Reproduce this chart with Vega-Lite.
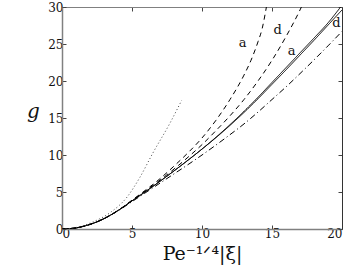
{
  "$schema": "https://vega.github.io/schema/vega-lite/v6.json",
  "width": 280,
  "height": 222,
  "autosize": {"type": "none"},
  "padding": {"left": 62, "top": 7, "right": 20, "bottom": 44},
  "background": "white",
  "config": {
    "view": {"stroke": null},
    "font": "DejaVu Serif",
    "axis": {"grid": false, "labelFont": "DejaVu Serif", "titleFont": "DejaVu Serif", "labelColor": "#111", "labelFontSize": 12, "tickColor": "#444", "domainColor": "#808080", "tickSize": -4, "labelPadding": 3}
  },
  "datasets": {
    "curves": [
      {"s": "1a", "x": 0, "y": 0}, {"s": "1a", "x": 1, "y": 0.15}, {"s": "1a", "x": 2, "y": 0.62}, {"s": "1a", "x": 3, "y": 1.4}, {"s": "1a", "x": 4, "y": 2.5}, {"s": "1a", "x": 5, "y": 3.8}, {"s": "1a", "x": 6, "y": 5.1}, {"s": "1a", "x": 7, "y": 6.45}, {"s": "1a", "x": 8, "y": 7.85}, {"s": "1a", "x": 9, "y": 9.3}, {"s": "1a", "x": 10, "y": 10.8}, {"s": "1a", "x": 11, "y": 12.4}, {"s": "1a", "x": 12, "y": 14.1}, {"s": "1a", "x": 13, "y": 15.9}, {"s": "1a", "x": 14, "y": 17.8}, {"s": "1a", "x": 15, "y": 19.8}, {"s": "1a", "x": 16, "y": 21.8}, {"s": "1a", "x": 17, "y": 23.8}, {"s": "1a", "x": 18, "y": 25.8}, {"s": "1a", "x": 19, "y": 27.85}, {"s": "1a", "x": 19.9, "y": 30},
      {"s": "1d", "x": 0, "y": 0}, {"s": "1d", "x": 1, "y": 0.15}, {"s": "1d", "x": 2, "y": 0.62}, {"s": "1d", "x": 3, "y": 1.4}, {"s": "1d", "x": 4, "y": 2.5}, {"s": "1d", "x": 5, "y": 3.8}, {"s": "1d", "x": 6, "y": 5.1}, {"s": "1d", "x": 7, "y": 6.45}, {"s": "1d", "x": 8, "y": 7.85}, {"s": "1d", "x": 9, "y": 9.3}, {"s": "1d", "x": 10, "y": 10.8}, {"s": "1d", "x": 11, "y": 12.35}, {"s": "1d", "x": 12, "y": 14.0}, {"s": "1d", "x": 13, "y": 15.75}, {"s": "1d", "x": 14, "y": 17.6}, {"s": "1d", "x": 15, "y": 19.55}, {"s": "1d", "x": 16, "y": 21.5}, {"s": "1d", "x": 17, "y": 23.5}, {"s": "1d", "x": 18, "y": 25.5}, {"s": "1d", "x": 19, "y": 27.55}, {"s": "1d", "x": 20, "y": 29.6},
      {"s": "2a", "x": 0, "y": 0}, {"s": "2a", "x": 1, "y": 0.15}, {"s": "2a", "x": 2, "y": 0.62}, {"s": "2a", "x": 3, "y": 1.4}, {"s": "2a", "x": 4, "y": 2.5}, {"s": "2a", "x": 5, "y": 3.9}, {"s": "2a", "x": 6, "y": 5.3}, {"s": "2a", "x": 7, "y": 6.8}, {"s": "2a", "x": 8, "y": 8.5}, {"s": "2a", "x": 9, "y": 10.3}, {"s": "2a", "x": 10, "y": 12.3}, {"s": "2a", "x": 11, "y": 14.7}, {"s": "2a", "x": 12, "y": 17.5}, {"s": "2a", "x": 13, "y": 20.8}, {"s": "2a", "x": 13.5, "y": 22.8}, {"s": "2a", "x": 14, "y": 25.3}, {"s": "2a", "x": 14.3, "y": 27.1}, {"s": "2a", "x": 14.6, "y": 30},
      {"s": "2d", "x": 0, "y": 0}, {"s": "2d", "x": 1, "y": 0.15}, {"s": "2d", "x": 2, "y": 0.62}, {"s": "2d", "x": 3, "y": 1.4}, {"s": "2d", "x": 4, "y": 2.5}, {"s": "2d", "x": 5, "y": 3.85}, {"s": "2d", "x": 6, "y": 5.2}, {"s": "2d", "x": 7, "y": 6.6}, {"s": "2d", "x": 8, "y": 8.1}, {"s": "2d", "x": 9, "y": 9.7}, {"s": "2d", "x": 10, "y": 11.4}, {"s": "2d", "x": 11, "y": 13.3}, {"s": "2d", "x": 12, "y": 15.3}, {"s": "2d", "x": 13, "y": 17.5}, {"s": "2d", "x": 14, "y": 20.0}, {"s": "2d", "x": 15, "y": 22.8}, {"s": "2d", "x": 16, "y": 26.0}, {"s": "2d", "x": 17, "y": 29.6}, {"s": "2d", "x": 17.1, "y": 30},
      {"s": "3", "x": 0, "y": 0}, {"s": "3", "x": 1, "y": 0.15}, {"s": "3", "x": 2, "y": 0.62}, {"s": "3", "x": 3, "y": 1.4}, {"s": "3", "x": 4, "y": 2.45}, {"s": "3", "x": 5, "y": 3.7}, {"s": "3", "x": 6, "y": 4.95}, {"s": "3", "x": 7, "y": 6.2}, {"s": "3", "x": 8, "y": 7.45}, {"s": "3", "x": 9, "y": 8.7}, {"s": "3", "x": 10, "y": 10.0}, {"s": "3", "x": 11, "y": 11.35}, {"s": "3", "x": 12, "y": 12.75}, {"s": "3", "x": 13, "y": 14.2}, {"s": "3", "x": 14, "y": 15.8}, {"s": "3", "x": 15, "y": 17.5}, {"s": "3", "x": 16, "y": 19.2}, {"s": "3", "x": 17, "y": 21.0}, {"s": "3", "x": 18, "y": 22.85}, {"s": "3", "x": 19, "y": 24.75}, {"s": "3", "x": 20, "y": 26.7},
      {"s": "4", "x": 0, "y": 0}, {"s": "4", "x": 1, "y": 0.2}, {"s": "4", "x": 2.2, "y": 0.95}, {"s": "4", "x": 3.43, "y": 2.2}, {"s": "4", "x": 4.64, "y": 4.3}, {"s": "4", "x": 5.57, "y": 7.0}, {"s": "4", "x": 6.5, "y": 10.3}, {"s": "4", "x": 7.71, "y": 14.3}, {"s": "4", "x": 8.55, "y": 17.4}
    ],
    "labels": [
      {"x": 12.9, "y": 25.1, "t": "a"},
      {"x": 15.4, "y": 26.9, "t": "d"},
      {"x": 16.4, "y": 24.0, "t": "a"},
      {"x": 19.6, "y": 27.9, "t": "d"}
    ]
  },
  "layer": [
    {
      "data": {"name": "curves"},
      "mark": {"type": "line", "strokeWidth": 1, "clip": true, "interpolate": "monotone"},
      "encoding": {
        "x": {"field": "x", "type": "quantitative", "scale": {"domain": [0, 20], "nice": false},
          "axis": {"orient": "bottom", "values": [0, 5, 10, 15, 20], "title": "Pe⁻¹ᐟ⁴|ξ|", "titleFontSize": 19, "titleFontWeight": "normal", "titleColor": "#111", "titlePadding": 5, "domainWidth": 1.5}},
        "y": {"field": "y", "type": "quantitative", "scale": {"domain": [0, 30], "nice": false},
          "axis": {"orient": "left", "values": [0, 5, 10, 15, 20, 25, 30], "title": "g", "titleFontSize": 20, "titleFontStyle": "italic", "titleFontWeight": "normal", "titleColor": "#111", "titleAngle": 0, "titleAlign": "center", "titleBaseline": "alphabetic", "titleX": -29, "titleY": 110, "domainWidth": 1.5}},
        "detail": {"field": "s"},
        "color": {"field": "s", "type": "nominal", "legend": null, "scale": {"domain": ["1a", "1d", "2a", "2d", "3", "4"], "range": ["#000", "#000", "#000", "#000", "#000", "#444"]}},
        "strokeDash": {"field": "s", "type": "nominal", "legend": null, "scale": {"domain": ["1a", "1d", "2a", "2d", "3", "4"], "range": [[1, 0], [1, 0], [5, 4], [5, 4], [6, 3, 1, 3], [1, 2.5]]}}
      }
    },
    {
      "data": {"name": "labels"},
      "mark": {"type": "text", "font": "DejaVu Serif", "fontSize": 13, "color": "#111"},
      "encoding": {
        "x": {"field": "x", "type": "quantitative", "axis": {"orient": "top", "values": [0, 5, 10, 15, 20], "labels": false, "title": null, "domainWidth": 1, "domainColor": "#808080"}},
        "y": {"field": "y", "type": "quantitative", "axis": {"orient": "right", "values": [0, 5, 10, 15, 20, 25, 30], "labels": false, "title": null, "domainWidth": 1, "domainColor": "#333"}},
        "text": {"field": "t"}
      }
    }
  ]
}
